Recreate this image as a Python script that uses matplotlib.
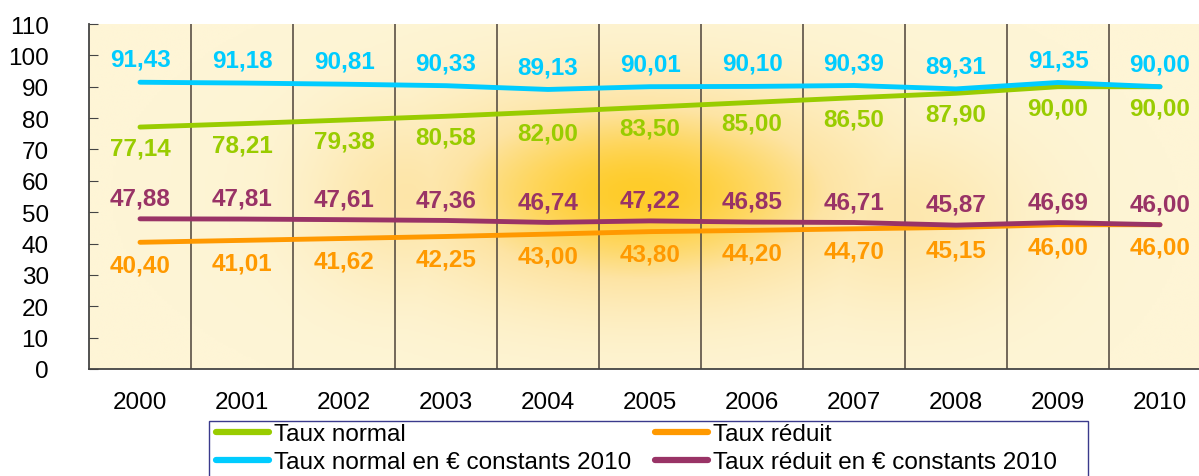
import numpy as np
import matplotlib
matplotlib.use("Agg")
import matplotlib.pyplot as plt
from matplotlib.colors import LinearSegmentedColormap
from matplotlib.patches import Rectangle

plt.rcParams['font.family'] = ['Liberation Sans', 'DejaVu Sans']

years = ['2000', '2001', '2002', '2003', '2004', '2005', '2006', '2007', '2008', '2009', '2010']
taux_normal = [77.14, 78.21, 79.38, 80.58, 82.00, 83.50, 85.00, 86.50, 87.90, 90.00, 90.00]
taux_reduit = [40.40, 41.01, 41.62, 42.25, 43.00, 43.80, 44.20, 44.70, 45.15, 46.00, 46.00]
normal_const = [91.43, 91.18, 90.81, 90.33, 89.13, 90.01, 90.10, 90.39, 89.31, 91.35, 90.00]
reduit_const = [47.88, 47.81, 47.61, 47.36, 46.74, 47.22, 46.85, 46.71, 45.87, 46.69, 46.00]

series = [
    ('Taux normal', taux_normal, '#99CC00', -15),
    ('Taux normal en € constants 2010', normal_const, '#00CCFF', 16.5),
    ('Taux réduit', taux_reduit, '#FF9900', -16),
    ('Taux réduit en € constants 2010', reduit_const, '#993366', 15),
]

fig = plt.figure(figsize=(11.99, 4.77), dpi=100)
ax = fig.add_axes([89 / 1199, 107 / 477, 1122 / 1199, 345 / 477])
x = np.arange(len(years))
ax.set_xlim(-0.5, len(years) - 0.5)
ax.set_ylim(0, 110)

# background glow
gx, gy = np.meshgrid(np.linspace(-0.5, 10.5, 440), np.linspace(0, 110, 220))
def blob(cx, cy, sx, sy, a):
    return a * np.exp(-(((gx - cx) / sx) ** 2 + ((gy - cy) / sy) ** 2))
d = np.maximum.reduce([blob(4.9, 56, 2.2, 33, 1.0),
                       blob(2.6, 55, 1.0, 30, 0.45),
                       blob(7.4, 48, 1.3, 30, 0.4)])
cmap = LinearSegmentedColormap.from_list('bg', ['#FEF5D6', '#FDE4A4', '#FFCC2A'])
ax.imshow(d, extent=(-0.5, 10.5, 0, 110), origin='lower', aspect='auto',
          cmap=cmap, vmin=0, vmax=1, zorder=0, interpolation='bilinear')

for b in np.arange(0.5, len(years) - 0.5, 1):
    ax.axvline(b, color='#5A5045', lw=1.2, zorder=1)

handles = []
for name, vals, col, off in series:
    h, = ax.plot(x, vals, color=col, lw=3.5, solid_capstyle='round', zorder=3, label=name)
    handles.append(h)
    for xi, v in zip(x, vals):
        ax.annotate(f'{v:.2f}'.replace('.', ','), (xi, v), xytext=(0, off),
                    textcoords='offset points', ha='center', va='center',
                    fontsize=17.5, fontweight='bold', color=col, zorder=4)

ax.set_yticks(range(0, 111, 10))
ax.set_xticks(x)
ax.set_xticklabels(years)
ax.tick_params(axis='y', direction='in', length=6.5, labelsize=17.5, pad=29, color='#444444')
ax.tick_params(axis='x', length=0, labelsize=17.5, pad=16)
for s in ['top', 'right']:
    ax.spines[s].set_visible(False)
for s in ['left', 'bottom']:
    ax.spines[s].set_color('#444444')
    ax.spines[s].set_linewidth(1.3)

leg = fig.legend(handles, [h.get_label() for h in handles], ncol=2,
                 loc='upper left', bbox_to_anchor=(216 / 1199, 1 - 424 / 477),
                 fontsize=17.5, handlelength=2.17, handletextpad=0.2,
                 borderpad=0, labelspacing=0.25, borderaxespad=0,
                 columnspacing=1.0, frameon=False)
for line in leg.get_lines():
    line.set_linewidth(4.5)
fig.patches.append(Rectangle((209 / 1199, -0.05), 879 / 1199, 55 / 477 + 0.05,
                             transform=fig.transFigure, fill=False,
                             edgecolor='#3A3A8C', lw=1.0))

fig.savefig('out.png', dpi=100)
